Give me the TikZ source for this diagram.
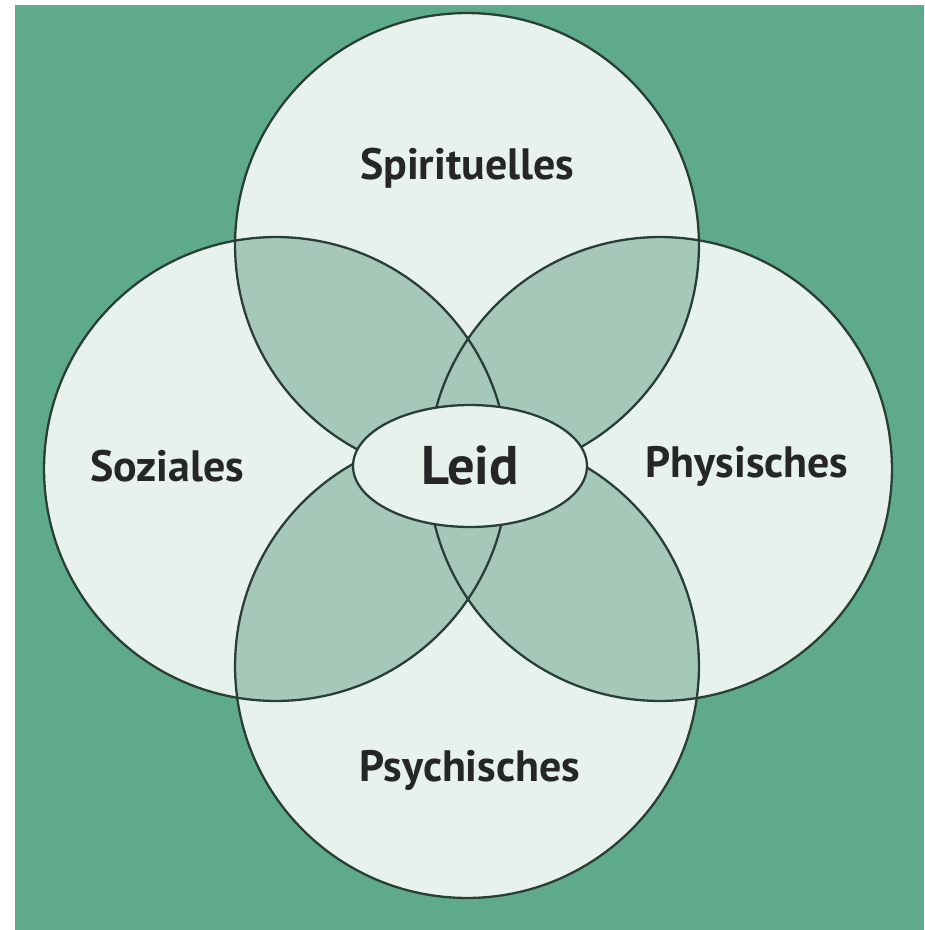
\documentclass[tikz,border=0pt]{standalone}
\usepackage{fontspec}
\setmainfont{PT Sans}
\usetikzlibrary{shapes.geometric}

\definecolor{bggreen}{RGB}{94,170,139}
\definecolor{leaf}{RGB}{231,242,236}
\definecolor{overlap}{RGB}{166,200,184}
\definecolor{rim}{RGB}{40,62,54}
\definecolor{ink}{RGB}{38,38,38}

\begin{document}
\begin{tikzpicture}[x=0.02cm, y=-0.02cm,
    rimline/.style={draw=rim, line width=1.3pt},
    sphere/.style={font=\fontsize{25}{29}\selectfont\bfseries, text=ink},
    core/.style={ellipse, draw=rim, line width=1.3pt, fill=leaf, inner sep=0pt,
      minimum width=4.68cm, minimum height=2.44cm,
      font=\fontsize{31}{35}\selectfont\bfseries, text=ink},
  ]
  \def\rad{4.64cm}
  \useasboundingbox (0,0) rectangle (924,930);
  \fill[white] (0,0) rectangle (924,930);
  \fill[bggreen] (15,5) rectangle (924,930);

  % circle centres
  \coordinate (spirit) at (467,245);
  \coordinate (social) at (276,469);
  \coordinate (physis) at (660,469);
  \coordinate (psyche) at (467,666);

  \foreach \c in {spirit,social,physis,psyche}
    \fill[leaf] (\c) circle (\rad);

  % shaded overlaps
  \foreach \a/\b in {spirit/social,spirit/physis,psyche/social,psyche/physis,social/physis,spirit/psyche} {
    \begin{scope}
      \clip (\a) circle (\rad);
      \fill[overlap] (\b) circle (\rad);
    \end{scope}
  }

  \foreach \c in {spirit,social,physis,psyche}
    \draw[rimline] (\c) circle (\rad);

  \node[core] (leid) at (470,466) {Leid};

  \node[sphere] (spiritlabel) at (467,168) {Spirituelles};
  \node[sphere] (sociallabel) at (167,466) {Soziales};
  \node[sphere] (physislabel) at (747,466) {Physisches};
  \node[sphere] (psychelabel) at (470,770) {Psychisches};
\end{tikzpicture}
\end{document}
